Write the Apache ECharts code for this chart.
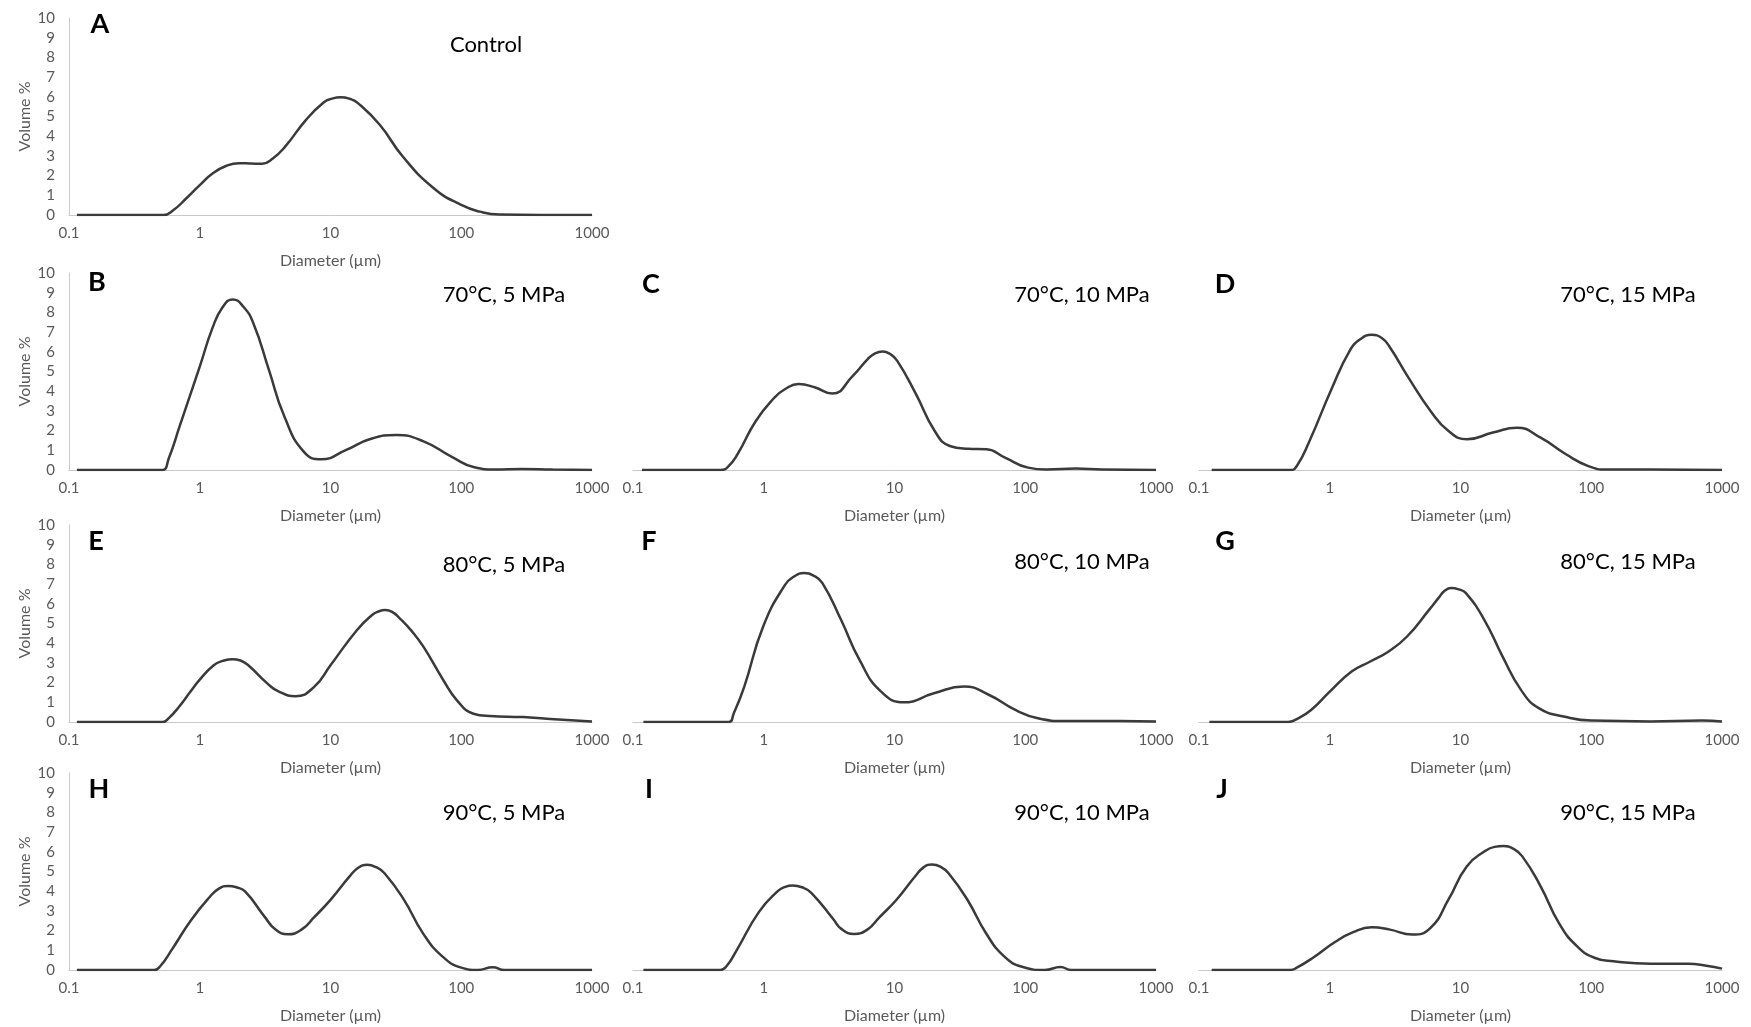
<!DOCTYPE html>
<html>
<head>
<meta charset="utf-8">
<script src="https://cdn.jsdelivr.net/npm/echarts@6/dist/echarts.min.js"></script>
<style>
html,body{margin:0;padding:0;background:#fff;}
#chart{width:1751px;height:1027px;}
</style>
</head>
<body>
<div id="chart"></div>
<script>
// ---- Data (diameter in µm, volume in %) ----
const xTickLabels = ['0.1', '1', '10', '100', '1000'];
const yTickLabels = ['0','1','2','3','4','5','6','7','8','9','10'];

const panelLetters = ['A','B','C','D','E','F','G','H','I','J'];
const panelNames = ['Control','70°C, 5 MPa','70°C, 10 MPa','70°C, 15 MPa','80°C, 5 MPa','80°C, 10 MPa','80°C, 15 MPa','90°C, 5 MPa','90°C, 10 MPa','90°C, 15 MPa'];

const diamA = [0.115, 0.3, 0.525, 0.63, 0.79, 1.0, 1.26, 1.6, 2.0, 2.5, 3.0, 3.6, 4.5, 6.5, 8.9, 10.3, 12, 14, 16.2, 23.8, 35.7, 61.6, 100, 139, 195, 400, 1000];
const volA  = [0, 0, 0, 0.25, 0.85, 1.52, 2.12, 2.5, 2.63, 2.61, 2.6, 2.85, 3.47, 4.83, 5.72, 5.91, 5.98, 5.9, 5.68, 4.58, 2.97, 1.36, 0.51, 0.17, 0.02, 0, 0];

const diamB = [0.115, 0.3, 0.515, 0.58, 0.7, 1.0, 1.25, 1.49, 1.79, 2.15, 2.57, 3.38, 4.44, 6.24, 8.5, 13.2, 19.9, 32, 52, 84, 126, 180, 290, 500, 1000];
const volB  = [0, 0, 0, 0.6, 2.2, 5.25, 7.2, 8.25, 8.66, 8.3, 7.45, 5.08, 2.71, 0.93, 0.54, 1.02, 1.56, 1.78, 1.44, 0.68, 0.14, 0.03, 0.05, 0.02, 0];

const diamC = [0.117, 0.3, 0.47, 0.53, 0.63, 0.87, 1.21, 1.45, 1.85, 2.45, 3.34, 4.8, 6.24, 7.1, 8.1, 9.2, 10.5, 14.6, 20.3, 26.5, 36.6, 50.6, 70, 105, 145, 244, 387, 1000];
const volC  = [0, 0, 0, 0.15, 0.8, 2.49, 3.68, 4.1, 4.36, 4.2, 3.88, 4.78, 5.63, 5.92, 6.02, 5.9, 5.54, 3.85, 1.98, 1.22, 1.08, 1.05, 0.63, 0.12, 0.02, 0.07, 0.02, 0];

const diamD = [0.125, 0.3, 0.5, 0.56, 0.7, 1.03, 1.42, 1.72, 2.09, 2.5, 2.89, 4.0, 5.9, 8.1, 11.2, 17.7, 27, 41, 64, 95, 131, 285, 1000];
const volD  = [0, 0, 0, 0.2, 1.47, 4.1, 6.05, 6.65, 6.86, 6.7, 6.22, 4.69, 3.0, 1.98, 1.56, 1.9, 2.15, 1.64, 0.8, 0.2, 0.02, 0.03, 0];

const diamE = [0.115, 0.3, 0.52, 0.58, 0.69, 0.85, 1.0, 1.28, 1.5, 1.78, 2.05, 2.35, 3.3, 4.0, 5.4, 7.5, 10, 15.9, 20.7, 23.3, 26.3, 29.6, 33.4, 42, 51.5, 73, 92.7, 124, 166, 297, 478, 1000];
const volE  = [0, 0, 0, 0.2, 0.75, 1.55, 2.15, 2.88, 3.1, 3.19, 3.12, 2.88, 1.95, 1.55, 1.31, 1.78, 2.88, 4.66, 5.42, 5.61, 5.68, 5.59, 5.3, 4.6, 3.81, 2.12, 1.1, 0.42, 0.3, 0.25, 0.15, 0.03];

const diamF = [0.12, 0.3, 0.54, 0.59, 0.71, 0.99, 1.45, 1.72, 2.03, 2.4, 2.81, 3.9, 5.4, 7.9, 11.9, 20, 34, 53, 84, 125, 200, 530, 1000];
const volF  = [0, 0, 0, 0.45, 1.8, 4.85, 6.95, 7.4, 7.56, 7.43, 7.05, 5.19, 3.15, 1.54, 1.0, 1.46, 1.8, 1.37, 0.61, 0.19, 0.05, 0.05, 0.03];

const diamG = [0.12, 0.3, 0.48, 0.55, 0.72, 1.0, 1.47, 2.04, 2.82, 3.9, 5.75, 6.8, 7.6, 8.5, 9.7, 11, 15.2, 21, 29, 40, 63, 100, 282, 700, 1000];
const volG  = [0, 0, 0, 0.12, 0.61, 1.54, 2.56, 3.07, 3.58, 4.34, 5.69, 6.3, 6.67, 6.8, 6.73, 6.54, 5.19, 3.32, 1.63, 0.69, 0.27, 0.07, 0.03, 0.07, 0.02];

const diamH = [0.115, 0.3, 0.45, 0.5, 0.61, 0.86, 1.2, 1.4, 1.64, 1.91, 2.23, 3.13, 3.8, 4.72, 6.0, 7.5, 10, 14, 16.3, 19.1, 22.3, 26, 36.5, 51, 72, 100, 134, 174, 214, 400, 1000];
const volH  = [0, 0, 0, 0.2, 1.02, 2.54, 3.73, 4.13, 4.27, 4.2, 3.98, 2.71, 2.05, 1.81, 2.05, 2.68, 3.56, 4.75, 5.19, 5.34, 5.22, 4.9, 3.56, 1.86, 0.68, 0.12, 0, 0.14, 0, 0, 0];

const diamI = [0.12, 0.3, 0.466, 0.52, 0.62, 0.92, 1.28, 1.46, 1.66, 1.96, 2.31, 3.42, 3.9, 4.9, 6.2, 7.6, 10.4, 14.4, 16.7, 19.4, 22.5, 26, 36, 50, 69, 96, 141, 186, 225, 400, 1000];
const volI  = [0, 0, 0, 0.2, 1.0, 2.95, 4.0, 4.22, 4.29, 4.2, 3.92, 2.56, 2.1, 1.83, 2.05, 2.65, 3.58, 4.76, 5.21, 5.36, 5.24, 4.9, 3.58, 1.88, 0.69, 0.15, 0, 0.15, 0, 0, 0];

const diamJ = [0.125, 0.3, 0.5, 0.56, 0.74, 1.09, 1.51, 2.09, 2.89, 4.26, 5.9, 8.1, 11.2, 15.5, 18.2, 21.4, 25.2, 29.6, 41, 56.5, 78, 107, 148, 285, 550, 760, 1000];
const volJ  = [0, 0, 0, 0.12, 0.61, 1.41, 1.92, 2.17, 2.05, 1.8, 2.14, 3.58, 5.27, 6.05, 6.25, 6.29, 6.16, 5.78, 4.25, 2.39, 1.2, 0.61, 0.44, 0.32, 0.32, 0.22, 0.07];

const diams = [diamA, diamB, diamC, diamD, diamE, diamF, diamG, diamH, diamI, diamJ];
const vols  = [volA, volB, volC, volD, volE, volF, volG, volH, volI, volJ];

// ---- Layout ----
const colLeft = [69, 633, 1199];
const colWidth = 523;
const rowTop = [18, 273, 525, 773];
const rowHeight = 197;
const panelPos = [[0,0],[1,0],[1,1],[1,2],[2,0],[2,1],[2,2],[3,0],[3,1],[3,2]];
const letterPos = [[100,24],[97,282],[651,284],[1225,284],[96,541],[649,541],[1225,541],[99,789],[649,789],[1222,789]];
const namePos = [[486,45],[504,295],[1082,295],[1628,295],[504,565],[1082,562],[1628,562],[504,813],[1082,813],[1628,813]];

const FONT = 'Lato, "Open Sans", sans-serif';
const grids = [], xAxes = [], yAxes = [], series = [], graphics = [];

panelPos.forEach(([r, c], i) => {
  grids.push({ left: colLeft[c], top: rowTop[r], width: colWidth, height: rowHeight, containLabel: false });
  xAxes.push({
    gridIndex: i, type: 'log', logBase: 10, min: 0.1, max: 1000,
    name: 'Diameter (µm)', nameLocation: 'middle', nameGap: 38,
    nameTextStyle: { color: '#595959', fontSize: 16, fontFamily: FONT },
    axisLine: { show: true, lineStyle: { color: '#c9c9c9', width: 1 } },
    axisTick: { show: false }, splitLine: { show: false }, minorTick: { show: false },
    axisLabel: {
      color: '#595959', fontSize: 15, fontFamily: FONT, margin: 11,
      formatter: v => { const k = Math.round(Math.log10(v)) + 1; return xTickLabels[k] ?? ''; }
    }
  });
  const showY = c === 0;
  yAxes.push({
    gridIndex: i, type: 'value', min: 0, max: 10, interval: 1,
    name: showY ? 'Volume %' : '', nameLocation: 'middle', nameGap: 36,
    nameTextStyle: { color: '#595959', fontSize: 16, fontFamily: FONT },
    axisLine: { show: showY, lineStyle: { color: '#c9c9c9', width: 1 } },
    axisTick: { show: false }, splitLine: { show: false },
    axisLabel: { show: showY, color: '#595959', fontSize: 15, fontFamily: FONT, margin: 14,
      formatter: v => yTickLabels[Math.round(v)] ?? '' }
  });
  series.push({
    type: 'line', xAxisIndex: i, yAxisIndex: i, smooth: 0.5, symbol: 'none',
    lineStyle: { color: '#3a3a3a', width: 2.5 }, animation: false,
    data: diams[i].map((d, j) => [d, vols[i][j]])
  });
  graphics.push({
    type: 'text', x: letterPos[i][0], y: letterPos[i][1],
    style: { text: panelLetters[i], font: 'bold 27px ' + FONT, fill: '#000',
      textAlign: 'center', textVerticalAlign: 'middle', align: 'center', verticalAlign: 'middle' }
  });
  graphics.push({
    type: 'text', x: namePos[i][0], y: namePos[i][1],
    style: { text: panelNames[i], font: '22px ' + FONT, fill: '#000',
      textAlign: 'center', textVerticalAlign: 'middle', align: 'center', verticalAlign: 'middle' }
  });
});

const chart = echarts.init(document.getElementById('chart'), null, { renderer: 'canvas' });
chart.setOption({
  backgroundColor: '#ffffff',
  animation: false,
  grid: grids, xAxis: xAxes, yAxis: yAxes, series: series,
  graphic: graphics
});
</script>
</body>
</html>
